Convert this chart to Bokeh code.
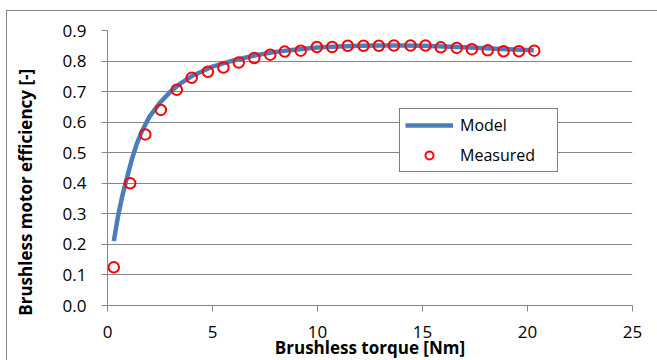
from bokeh.plotting import figure
from bokeh.models import FixedTicker, NumeralTickFormatter, Range1d, Legend, LegendItem
from bokeh.embed import file_html
from bokeh.resources import INLINE

measured_torque = [0.30, 1.08, 1.80, 2.54, 3.30, 4.01, 4.78, 5.52, 6.25, 6.99,
                   7.75, 8.44, 9.20, 9.97, 10.70, 11.44, 12.19, 12.92, 13.64, 14.43,
                   15.14, 15.87, 16.63, 17.35, 18.11, 18.86, 19.59, 20.32]
measured_eff = [0.125, 0.400, 0.560, 0.640, 0.706, 0.745, 0.765, 0.779, 0.795, 0.810,
                0.821, 0.831, 0.834, 0.846, 0.846, 0.850, 0.850, 0.850, 0.851, 0.851,
                0.851, 0.845, 0.843, 0.839, 0.835, 0.832, 0.832, 0.834]

# Model curve
model_torque = [0.30, 0.50, 0.70, 0.90, 1.15, 1.40, 1.65, 2.0, 2.5, 3.0, 3.5, 4.0,
                5.0, 6.0, 7.0, 8.0, 9.0, 10.0, 11.0, 12.0, 13.0, 14.0, 15.0, 16.0,
                17.0, 18.0, 19.0, 20.3]
model_eff = [0.211, 0.292, 0.357, 0.411, 0.476, 0.530, 0.572, 0.618, 0.664, 0.700,
             0.728, 0.750, 0.782, 0.802, 0.818, 0.830, 0.838, 0.844, 0.848, 0.850,
             0.851, 0.851, 0.850, 0.848, 0.845, 0.842, 0.839, 0.835]

x_ticks = [0, 5, 10, 15, 20, 25]
y_ticks = [0.0, 0.1, 0.2, 0.3, 0.4, 0.5, 0.6, 0.7, 0.8, 0.9]

GREY = "#868686"
FONT = "Open Sans"

p = figure(width=651, height=350, output_backend="svg", toolbar_location=None,
           x_range=Range1d(0, 25), y_range=Range1d(0, 0.9),
           min_border_left=100, min_border_right=26, min_border_top=19, min_border_bottom=53,
           margin=(10, 0, 0, 6))
p.outline_line_color = None
p.background_fill_color = "white"
p.border_fill_color = "white"
p.styles = {"border-top": "1px solid " + GREY, "border-left": "1px solid " + GREY}

for ax in (p.xaxis[0], p.yaxis[0]):
    ax.axis_line_color = GREY
    ax.axis_line_width = 1
    ax.major_tick_line_color = GREY
    ax.major_tick_out = 6
    ax.major_tick_in = 0
    ax.minor_tick_line_color = None
    ax.major_label_text_font = FONT
    ax.major_label_text_font_size = "17px"
    ax.major_label_text_color = "black"
    ax.axis_label_text_font = FONT
    ax.axis_label_text_font_size = "17px"
    ax.axis_label_text_font_style = "bold"
    ax.axis_label_text_color = "black"

p.xaxis.ticker = FixedTicker(ticks=x_ticks)
p.yaxis.ticker = FixedTicker(ticks=y_ticks)
p.yaxis.formatter = NumeralTickFormatter(format="0.0")
p.xaxis.major_label_standoff = 14
p.yaxis.major_label_standoff = 15

p.xaxis.axis_label = "Brushless torque [Nm]"
p.xaxis.axis_label_standoff = -5

# trailing non-breaking spaces shift the centred title down, as in the reference
p.yaxis.axis_label = "Brushless motor efficiency [-]" + "\u00a0" * 11
p.yaxis.axis_label_standoff = 23

p.xgrid.visible = False
p.ygrid.ticker = FixedTicker(ticks=y_ticks)
p.ygrid.grid_line_color = GREY
p.ygrid.grid_line_width = 1

r_model = p.line(model_torque, model_eff, line_color="#4A7EBB", line_width=4.5)
r_meas = p.scatter(measured_torque, measured_eff, marker="circle", size=10.5,
                   line_color="#FF0000", line_width=2, fill_color=None)

legend = Legend(items=[LegendItem(label="Model", renderers=[r_model]),
                       LegendItem(label="Measured", renderers=[r_meas])],
                location=(292, 133), margin=0, padding=5, spacing=8,
                glyph_width=48, glyph_height=20, label_height=20, label_width=92,
                label_standoff=7, border_line_color="black", border_line_width=1,
                background_fill_color="white", background_fill_alpha=1.0,
                label_text_font=FONT, label_text_font_size="16px", label_text_color="black")
p.add_layout(legend)

open("out.html", "w").write(file_html(p, INLINE))
